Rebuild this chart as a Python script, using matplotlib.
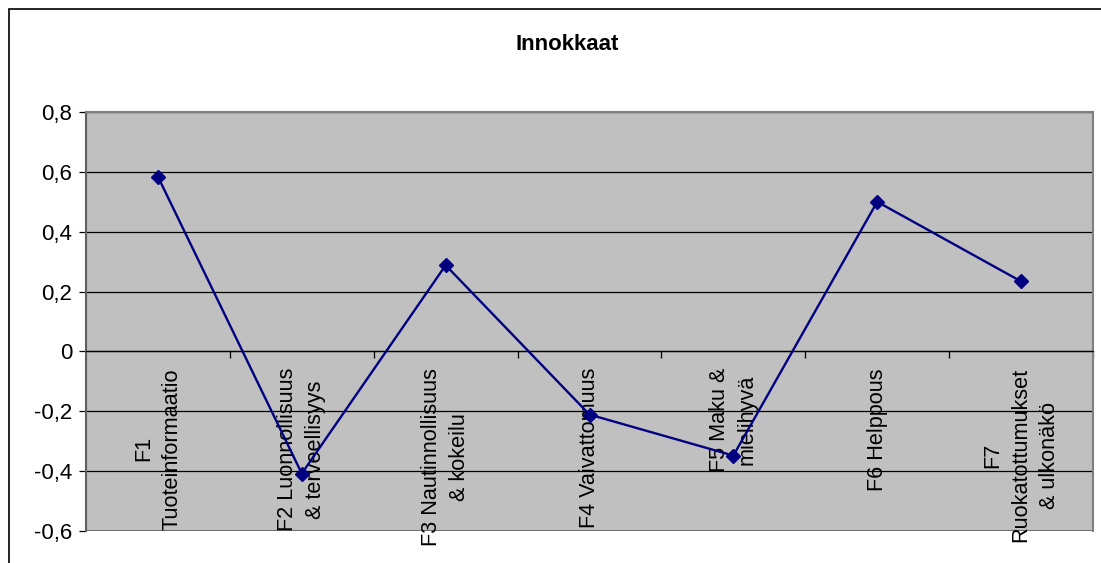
import matplotlib
matplotlib.use("Agg")
import matplotlib.pyplot as plt
from matplotlib.patches import Rectangle
from matplotlib.ticker import FixedLocator, FuncFormatter

plt.rcParams['font.family'] = ['Liberation Sans', 'DejaVu Sans']

title = "Innokkaat"
categories = [
    "F1\nTuoteinformaatio",
    "F2 Luonnollisuus\n& terveellisyys",
    "F3 Nautinnollisuus\n& kokeilu",
    "F4 Vaivattomuus",
    "F5 Maku &\nmielihyvä",
    "F6 Helppous",
    "F7\nRuokatottumukset\n& ulkonäkö",
]
values = [0.584, -0.408, 0.288, -0.211, -0.348, 0.500, 0.234]
y_ticks = [-0.6, -0.4, -0.2, 0.0, 0.2, 0.4, 0.6, 0.8]

W, H = 1101, 563
FS = 16
fig = plt.figure(figsize=(W / 100, H / 100), dpi=100)
fig.patch.set_facecolor("white")

# outer chart border
fig.add_artist(Rectangle((9 / W, -0.05), 1.1, 1 - 9 / H + 0.05,
                         transform=fig.transFigure, fill=False,
                         edgecolor="black", linewidth=1.2))

ax = fig.add_axes([86 / W, 32 / H, 1007 / W, 419 / H])
ax.set_facecolor("#c0c0c0")

n = len(categories)
x = list(range(n))
ax.set_xlim(-0.5, n - 0.5)
ax.set_ylim(y_ticks[0], y_ticks[-1])

# horizontal gridlines
ax.set_yticks(y_ticks)
ax.yaxis.set_major_formatter(FuncFormatter(
    lambda v, p: "0" if abs(v) < 1e-9 else f"{v:.1f}".replace(".", ",")))
ax.grid(axis="y", color="black", linewidth=0.9)
ax.set_axisbelow(True)
ax.tick_params(axis="y", direction="out", length=5, width=0.9,
               labelsize=FS, pad=5, color="black")

# plot-area frame
for side in ("top", "right", "left"):
    ax.spines[side].set_color("#808080")
    ax.spines[side].set_linewidth(1.5)
ax.spines["left"].set_color("#606060")
ax.add_patch(Rectangle((0, 0), 1, 1, transform=ax.transAxes, fill=False,
                       edgecolor="#808080", linewidth=1.5, zorder=0.5))

# category axis crossing at zero
ax.spines["bottom"].set_position(("data", 0))
ax.spines["bottom"].set_color("black")
ax.spines["bottom"].set_linewidth(0.9)
ax.set_xticks(x)
ax.set_xticklabels(categories, rotation=90, va="top", ha="center",
                   multialignment="center", fontsize=15.6, linespacing=1.45)
ax.xaxis.set_minor_locator(FixedLocator([i + 0.5 for i in range(n)]))
ax.tick_params(axis="x", which="major", length=0, pad=12)
ax.tick_params(axis="x", which="minor", direction="out", length=5,
               width=0.9, color="black")

ax.plot(x, values, color="#000080", linewidth=1.7, marker="D",
        markersize=7.5, markerfacecolor="#000080",
        markeredgecolor="#000080", zorder=3, clip_on=False)

fig.text(567 / W, 1 - 45 / H, title, ha="center", va="center",
         fontsize=FS, fontweight="bold")

fig.savefig("out.png", dpi=100, facecolor="white")
